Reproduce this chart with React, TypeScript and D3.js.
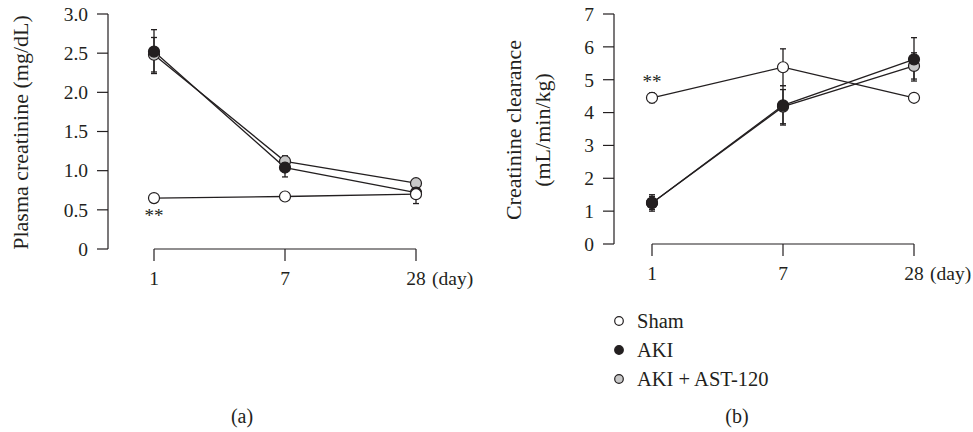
import React from 'react'
import * as d3 from 'd3'

// days on the x axis
const days = ['1', '7', '28']

// panel (a) plasma creatinine, mg/dL
const shamCreat = [0.65, 0.67, 0.70]
const shamCreatErr = [0.03, 0.03, 0.04]
const akiCreat = [2.52, 1.04, 0.72]
const akiCreatErr = [0.28, 0.12, 0.14]
const astCreat = [2.48, 1.12, 0.84]
const astCreatErr = [0.22, 0.07, 0.05]
const creatTicks = [0, 0.5, 1.0, 1.5, 2.0, 2.5, 3.0]
const creatTickLabels = ['0', '0.5', '1.0', '1.5', '2.0', '2.5', '3.0']

// panel (b) creatinine clearance, mL/min/kg
const shamClear = [4.45, 5.38, 4.45]
const shamClearErr = [0.15, 0.56, 0.08]
const akiClear = [1.25, 4.22, 5.62]
const akiClearErr = [0.25, 0.6, 0.66]
const astClear = [1.25, 4.18, 5.42]
const astClearErr = [0.2, 0.52, 0.4]
const clearTicks = [0, 1, 2, 3, 4, 5, 6, 7]
const clearTickLabels = ['0', '1', '2', '3', '4', '5', '6', '7']

const groups = ['Sham', 'AKI', 'AKI + AST-120']
const INK = '#231f20'
const fills = { 'Sham': '#fff', 'AKI': INK, 'AKI + AST-120': '#c8c8c8' }
const FONT = '"Liberation Serif", "Times New Roman", serif'

const WIDTH = 973
const HEIGHT = 432

type Series = { name: string, values: number[], err: number[] }

const Panel = (props: {
    series: Series[], ticks: number[], tickLabels: string[],
    axisX: number, top: number, bottom: number, x0: number, x1: number,
    label: string[], labelX: number, stars: { day: string, dy: number }
}) => {
    const { series, ticks, tickLabels, axisX, top, bottom, x0, x1, label, labelX, stars } = props
    const xScale = d3.scalePoint<string>().domain(days).range([x0, x1])
    const yScale = d3.scaleLinear()
        .domain([0, ticks[ticks.length - 1]])
        .range([bottom, top])
    const line = d3.line<number>()
        .x((_, i) => xScale(days[i]) as number)
        .y(d => yScale(d))
    const midY = (top + bottom) / 2 + 1
    // draw gray first, then black, sham on top
    const order = [series[2], series[1], series[0]]
    return (
        <g fontFamily={FONT} fill={INK}>
            {/* y axis */}
            <line x1={axisX} y1={yScale(ticks[ticks.length - 1])} x2={axisX} y2={bottom} stroke={INK} strokeWidth={1.2} />
            {ticks.map((t, i) => (
                <g key={t}>
                    <line x1={axisX - 11} y1={yScale(t)} x2={axisX} y2={yScale(t)} stroke={INK} strokeWidth={1.2} />
                    <text x={axisX - 20} y={yScale(t)} dy="0.35em" fontSize={19.5} textAnchor="end">{tickLabels[i]}</text>
                </g>
            ))}
            {label.map((s, i) => (
                <text key={s} transform={`translate(${labelX + i * 29},${midY}) rotate(-90)`}
                    fontSize={22} textAnchor="middle" dy="0.35em">{s}</text>
            ))}

            {/* x axis */}
            <line x1={x0} y1={bottom} x2={x1} y2={bottom} stroke={INK} strokeWidth={1.2} />
            {days.map(d => (
                <g key={d}>
                    <line x1={xScale(d)} y1={bottom} x2={xScale(d)} y2={bottom + 12} stroke={INK} strokeWidth={1.2} />
                    <text x={xScale(d)} y={bottom + 36} fontSize={19.5} textAnchor="middle">{d}</text>
                </g>
            ))}
            <text x={(xScale('28') as number) + 16} y={bottom + 36} fontSize={19.5}>(day)</text>

            {/* lines */}
            {order.map(s => (
                <path key={s.name} d={line(s.values) || ''} fill="none" stroke={INK} strokeWidth={1.3} />
            ))}
            {/* error bars */}
            {order.map(s => s.values.map((v, i) => {
                const x = xScale(days[i]) as number
                const y1 = yScale(v + s.err[i])
                const y2 = yScale(v - s.err[i])
                return (
                    <g key={s.name + i} stroke={INK} strokeWidth={1.3}>
                        <line x1={x} y1={y1} x2={x} y2={y2} />
                        <line x1={x - 3} y1={y1} x2={x + 3} y2={y1} />
                        <line x1={x - 3} y1={y2} x2={x + 3} y2={y2} />
                    </g>
                )
            }))}
            {/* points */}
            {order.map(s => s.values.map((v, i) => (
                <circle key={s.name + 'c' + i} cx={xScale(days[i])} cy={yScale(v)} r={5.5}
                    fill={fills[s.name as keyof typeof fills]} stroke={INK} strokeWidth={1.2} />
            )))}
            <text x={xScale(stars.day)} y={yScale(series[0].values[0]) + stars.dy} fontSize={19} textAnchor="middle">**</text>
        </g>
    )
}

const App = () => {
    const seriesA: Series[] = [
        { name: groups[0], values: shamCreat, err: shamCreatErr },
        { name: groups[1], values: akiCreat, err: akiCreatErr },
        { name: groups[2], values: astCreat, err: astCreatErr },
    ]
    const seriesB: Series[] = [
        { name: groups[0], values: shamClear, err: shamClearErr },
        { name: groups[1], values: akiClear, err: akiClearErr },
        { name: groups[2], values: astClear, err: astClearErr },
    ]
    return (
        <svg width={WIDTH} height={HEIGHT} style={{ position: 'absolute', left: 0, top: 0, background: '#fff' }}>
            <Panel series={seriesA} ticks={creatTicks} tickLabels={creatTickLabels}
                axisX={108} top={14} bottom={249} x0={154} x1={416}
                label={['Plasma creatinine (mg/dL)']} labelX={20}
                stars={{ day: '1', dy: 24 }} />
            <Panel series={seriesB} ticks={clearTicks} tickLabels={clearTickLabels}
                axisX={614} top={14} bottom={244} x0={652} x1={914}
                label={['Creatinine clearance', '(mL/min/kg)']} labelX={513}
                stars={{ day: '1', dy: -10 }} />
            {/* legend */}
            <g fontFamily={FONT} fontSize={20.5} fill={INK}>
                {groups.map((g, i) => (
                    <g key={g} transform={`translate(619,${321 + i * 29})`}>
                        <circle r={4.3} fill={fills[g as keyof typeof fills]} stroke={INK} strokeWidth={1.2} />
                        <text x={18} dy="0.35em">{g}</text>
                    </g>
                ))}
            </g>
            <text x={242} y={423} fontFamily={FONT} fontSize={20} textAnchor="middle" fill={INK}>(a)</text>
            <text x={737} y={423} fontFamily={FONT} fontSize={20} textAnchor="middle" fill={INK}>(b)</text>
        </svg>
    )
}

export default App
